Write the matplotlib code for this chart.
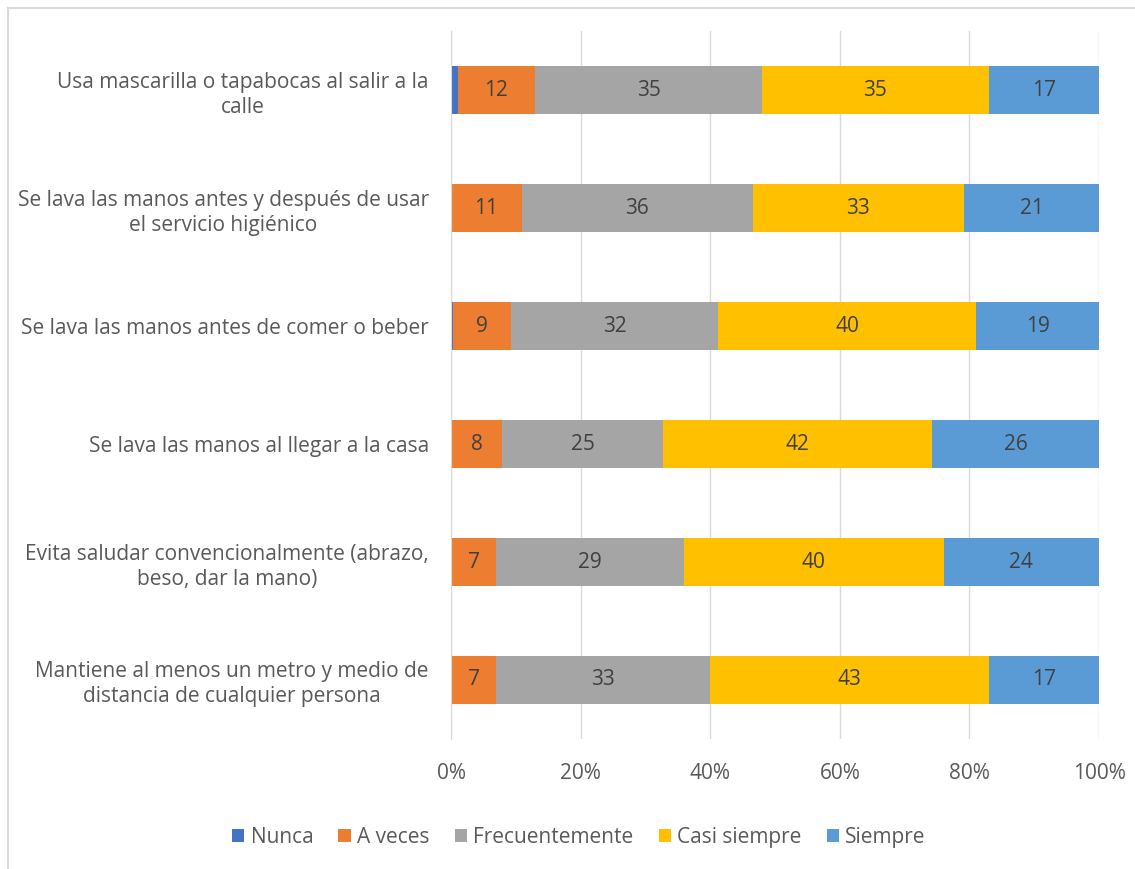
import numpy as np
import matplotlib
matplotlib.use("Agg")
import matplotlib.pyplot as plt
from matplotlib.patches import Rectangle

plt.rcParams['font.family'] = ['Open Sans', 'DejaVu Sans']

categorias = [
    "Usa mascarilla o tapabocas al salir a la\ncalle",
    "Se lava las manos antes y después de usar\nel servicio higiénico",
    "Se lava las manos antes de comer o beber",
    "Se lava las manos al llegar a la casa",
    "Evita saludar convencionalmente (abrazo,\nbeso, dar la mano)",
    "Mantiene al menos un metro y medio de\ndistancia de cualquier persona",
]
series = ["Nunca", "A veces", "Frecuentemente", "Casi siempre", "Siempre"]
colores = ["#4472C4", "#ED7D31", "#A5A5A5", "#FFC000", "#5B9BD5"]

nunca = [1, 0, 0.3, 0, 0, 0]
a_veces = [12, 11, 9, 8, 7, 7]
frecuentemente = [35, 36, 32, 25, 29, 33]
casi_siempre = [35, 33, 40, 42, 40, 43]
siempre = [17, 21, 19, 26, 24, 17]

datos = np.array([nunca, a_veces, frecuentemente, casi_siempre, siempre], dtype=float)
# 100% apilado: cada fila se normaliza
pct = datos / datos.sum(axis=0) * 100

fig = plt.figure(figsize=(11.35, 8.69), dpi=100)
ax = fig.add_axes([0.3974, 0.1496, 0.5709, 0.8147])

y = np.arange(len(categorias))
izq = np.zeros(len(categorias))
for i in range(len(series)):
    ax.barh(y, pct[i], left=izq, height=0.4, color=colores[i], label=series[i], zorder=3)
    if i > 0:
        for j in range(len(categorias)):
            ax.text(izq[j] + pct[i][j] / 2, y[j], "%d" % datos[i][j],
                    ha='center', va='center', fontsize=15, color='#404040', zorder=4)
    izq = izq + pct[i]

ax.set_xlim(0, 100)
ax.set_ylim(len(categorias) - 0.5, -0.5)
ax.set_xticks([0, 20, 40, 60, 80, 100])
ax.set_xticklabels(["0%", "20%", "40%", "60%", "80%", "100%"])
ax.set_yticks(y)
ax.set_yticklabels(categorias, multialignment='center', linespacing=1.25)
ax.tick_params(axis='both', length=0, labelsize=15, colors='#595959')
ax.tick_params(axis='x', pad=17)
ax.tick_params(axis='y', pad=16)
ax.grid(axis='x', color='#D9D9D9', linewidth=1, zorder=0)
for s in ['top', 'right', 'bottom']:
    ax.spines[s].set_visible(False)
ax.spines['left'].set_color('#D9D9D9')
ax.spines['left'].set_zorder(5)

fig.legend(loc='center', bbox_to_anchor=(0.51, 0.036), ncol=5, frameon=False,
           handlelength=0.6, handleheight=0.6, handletextpad=0.3, columnspacing=1.2,
           fontsize=15, labelcolor='#595959')

# marco del gráfico (solo visible a la izquierda y arriba)
fig.patches.append(Rectangle((0.007, -0.1), 1.2, 1.0908, transform=fig.transFigure,
                             fill=False, edgecolor='#D9D9D9', linewidth=1.5))

fig.savefig("out.png", dpi=100)
